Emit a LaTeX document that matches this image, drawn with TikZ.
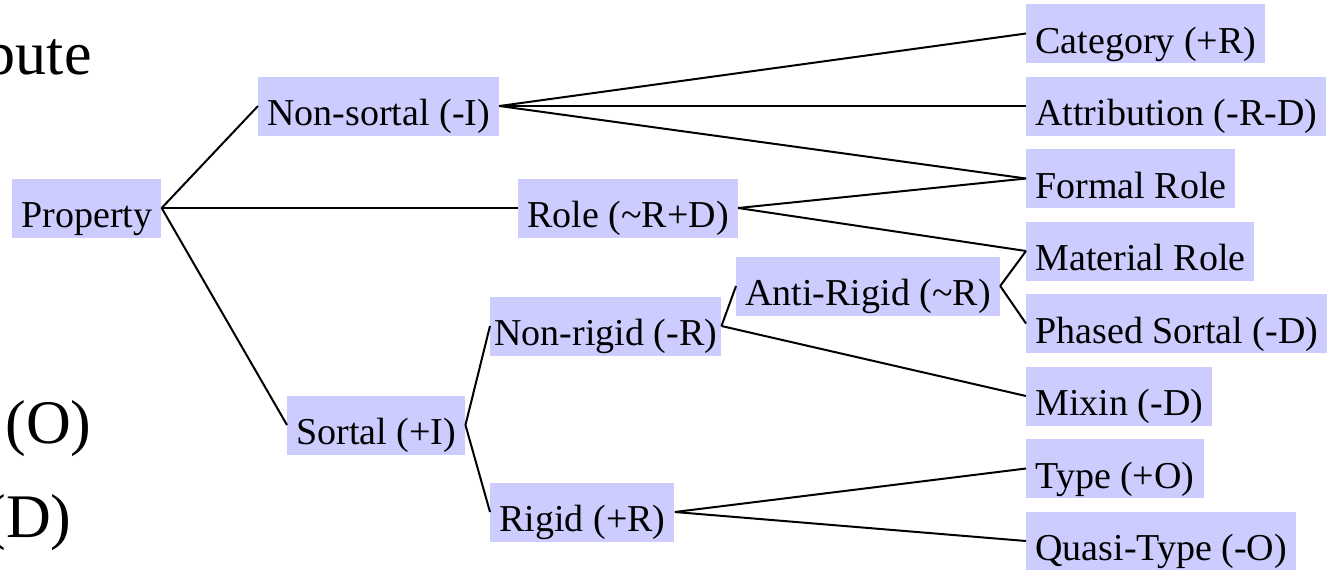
\documentclass[tikz,border=0pt]{standalone}
\usepackage{fontspec}
\setmainfont{Liberation Serif}
\usetikzlibrary{positioning}
\tikzset{
  concept/.style={fill=blue!20, anchor=west, font=\fontsize{19}{22}\selectfont,
    inner xsep=4.5pt, inner ysep=0pt, text height=24.5pt, text depth=5pt},
  margin_text/.style={anchor=base east, inner sep=0pt, font=\fontsize{31}{36}\selectfont},
  branch/.style={draw, line width=1pt},
}

\begin{document}
\begin{tikzpicture}[x=0.5pt, y=-0.5pt]
      \useasboundingbox (0,0) rectangle (1328,569);
      \clip (0,0) rectangle (1328,569);
      \node (attribute) [margin_text] at (92,74) {bute};
      \node (ontic) [margin_text] at (92,443) {(O)};
      \node (dependent) [margin_text] at (72,537) {(D)};

      \node (property) [concept] at (12,208) {Property};
      \node (nonsortal) [concept] at (258,106) {Non-sortal (-I)};
      \node (role) [concept] at (518,208) {Role (\char`\~R+D)};
      \node (sortal) [concept] at (287,425) {Sortal (+I)};
      \node (nonrigid) [concept, inner xsep=2pt] at (490,326) {Non-rigid (-R)};
      \node (rigid) [concept] at (490,512) {Rigid (+R)};
      \node (antirigid) [concept] at (736,286) {Anti-Rigid (\char`\~R)};

      \node (category) [concept] at (1026,33.5) {Category (+R)};
      \node (attribution) [concept] at (1026,106) {Attribution (-R-D)};
      \node (formalrole) [concept] at (1026,178.5) {Formal Role};
      \node (materialrole) [concept] at (1026,251) {Material Role};
      \node (phasedsortal) [concept] at (1026,323.5) {Phased Sortal (-D)};
      \node (mixin) [concept] at (1026,396) {Mixin (-D)};
      \node (type) [concept] at (1026,468.5) {Type (+O)};
      \node (quasitype) [concept] at (1026,541) {Quasi-Type (-O)};

      \draw [branch] (property.east) -- (nonsortal.west);
      \draw [branch] (property.east) -- (role.west);
      \draw [branch] (property.east) -- (sortal.west);
      \draw [branch] (nonsortal.east) -- (category.west);
      \draw [branch] (nonsortal.east) -- (attribution.west);
      \draw [branch] (nonsortal.east) -- (formalrole.west);
      \draw [branch] (role.east) -- (formalrole.west);
      \draw [branch] (role.east) -- (materialrole.west);
      \draw [branch] (sortal.east) -- (nonrigid.west);
      \draw [branch] (sortal.east) -- (rigid.west);
      \draw [branch] (nonrigid.east) -- (antirigid.west);
      \draw [branch] (nonrigid.east) -- (mixin.west);
      \draw [branch] (antirigid.east) -- (materialrole.west);
      \draw [branch] (antirigid.east) -- (phasedsortal.west);
      \draw [branch] (rigid.east) -- (type.west);
      \draw [branch] (rigid.east) -- (quasitype.west);
    \end{tikzpicture}
\end{document}
